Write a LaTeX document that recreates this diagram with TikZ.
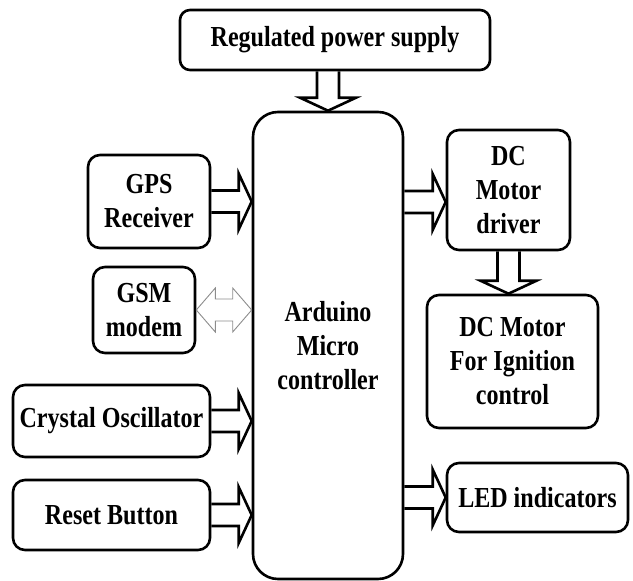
\documentclass[tikz,border=0pt]{standalone}
\usepackage{fontspec}
\setmainfont{Liberation Serif}[FakeStretch=0.83]
\usepackage{xcolor}
\definecolor{arrowgray}{RGB}{140,140,140}
\usetikzlibrary{calc}

\tikzset{
  blk/.style={draw, line width=2.6pt, rounded corners=12pt, align=center,
    inner sep=0pt, font=\bfseries\fontsize{29}{34}\selectfont},
  fatarrow/.style={draw, line width=2.6pt, line join=miter},
  thinarrow/.style={draw=arrowgray, line width=0.9pt, line join=miter}
}

% fat hollow arrow: start, tip, direction (canvas angle)
\newcommand{\fatarrow}[3]{%
  \draw[fatarrow] ($(#1)+(#3+90:11pt)$)
    -- ($(#2)+(#3+180:13pt)+(#3+90:11pt)$)
    -- ($(#2)+(#3+180:13pt)+(#3+90:28pt)$)
    -- (#2)
    -- ($(#2)+(#3+180:13pt)+(#3-90:28pt)$)
    -- ($(#2)+(#3+180:13pt)+(#3-90:11pt)$)
    -- ($(#1)+(#3-90:11pt)$);}

% thin hollow double arrow, left to right
\newcommand{\dblarrow}[2]{%
  \draw[thinarrow] (#1)
    -- ($(#1)+(19pt,22pt)$) -- ($(#1)+(19pt,11pt)$)
    -- ($(#2)+(-19pt,11pt)$) -- ($(#2)+(-19pt,22pt)$)
    -- (#2)
    -- ($(#2)+(-19pt,-22pt)$) -- ($(#2)+(-19pt,-11pt)$)
    -- ($(#1)+(19pt,-11pt)$) -- ($(#1)+(19pt,-22pt)$) -- cycle;}

\begin{document}
\begin{tikzpicture}[x=1pt, y=-1pt]
  \useasboundingbox (0,0) rectangle (633,581);

  % --- Blocks ---
  \node[blk, rounded corners=10pt, minimum width=310pt, minimum height=60pt] (pwr) at (335,40) {Regulated power supply};
  \node[blk, rounded corners=25pt, minimum width=150pt, minimum height=467pt] (ard) at (328,345.5) {Arduino\\Micro\\controller};
  \node[blk, minimum width=122pt, minimum height=93pt] (gps) at (149,201.5) {GPS\\Receiver};
  \node[blk, minimum width=102pt, minimum height=86pt] (gsm) at (144,310) {GSM\\modem};
  \node[blk, minimum width=197pt, minimum height=72pt] (xtal) at (111.5,421) {Crystal Oscillator};
  \node[blk, minimum width=197pt, minimum height=70pt] (rst) at (111.5,515) {Reset Button};
  \node[blk, minimum width=123pt, minimum height=120pt] (drv) at (508.5,190) {DC\\Motor\\driver};
  \node[blk, minimum width=171pt, minimum height=133pt] (ign) at (512.5,361.5) {DC Motor\\For Ignition\\control};
  \node[blk, minimum width=181pt, minimum height=69pt] (led) at (537.5,497.5) {LED indicators};

  % --- Arrows ---
  \fatarrow{ard.north |- pwr.south}{ard.north}{270}
  \fatarrow{gps.east}{gps.east -| ard.west}{0}
  \dblarrow{gsm.east}{gsm.east -| ard.west}
  \fatarrow{xtal.east}{xtal.east -| ard.west}{0}
  \fatarrow{rst.east}{rst.east -| ard.west}{0}
  \coordinate (drvin) at ([yshift=-12pt]drv.west);
  \fatarrow{drvin -| ard.east}{drvin}{0}
  \fatarrow{drv.south}{drv.south |- ign.north}{270}
  \fatarrow{led.west -| ard.east}{led.west}{0}
\end{tikzpicture}
\end{document}
